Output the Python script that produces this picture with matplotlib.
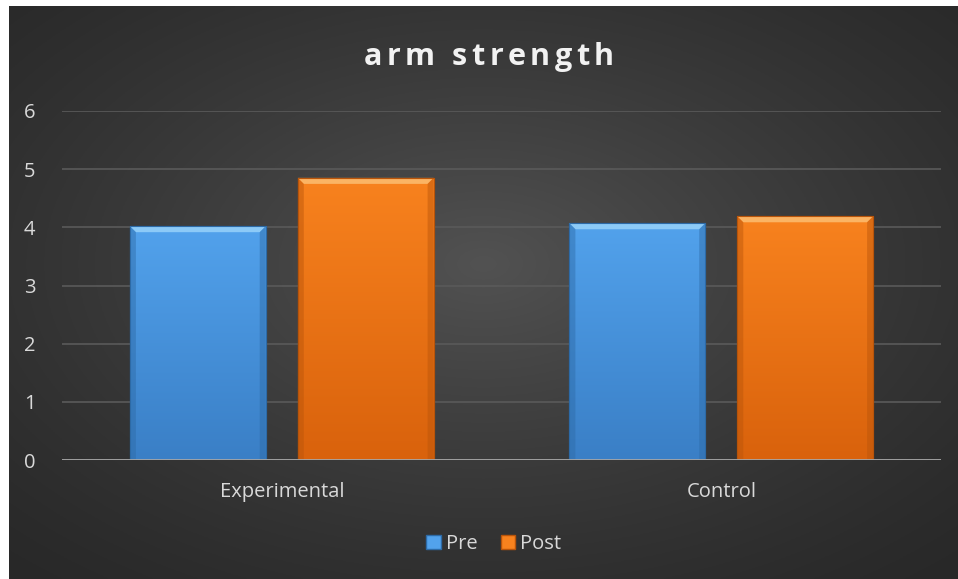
import numpy as np
import matplotlib
matplotlib.use("Agg")
import matplotlib.pyplot as plt
from matplotlib.patches import Polygon, Rectangle

# Data
categories = ["Experimental", "Control"]
series_names = ["Pre", "Post"]
pre_values = [4.02, 4.07]
post_values = [4.85, 4.19]
y_ticks = [0, 1, 2, 3, 4, 5, 6]
title = "arm strength"

top_colors = {"Pre": "#52a2ec", "Post": "#f8821e"}
bottom_colors = {"Pre": "#3a7fc6", "Post": "#d9620c"}
light_colors = {"Pre": "#8ccaf7", "Post": "#fbb464"}
dark_colors = {"Pre": "#2d6aa6", "Post": "#b8540a"}

plt.rcParams["font.family"] = ["Open Sans", "DejaVu Sans"]

W, H = 958, 579
fig = plt.figure(figsize=(W / 100, H / 100), dpi=100)
fig.patch.set_facecolor("white")

# Dark panel with a soft radial gradient
bg = fig.add_axes([9 / W, 0, 1 - 9 / W, 1 - 6 / H])
bg.set_axis_off()
yy, xx = np.mgrid[0:1:300j, 0:1:500j]
r = np.sqrt(((xx - 0.5) / 0.75) ** 2 + ((yy - 0.55) / 0.75) ** 2)
shade = np.clip(1 - r, 0, 1)
lo = np.array([0x28, 0x28, 0x28]) / 255
hi = np.array([0x52, 0x52, 0x52]) / 255
img = lo + (hi - lo) * shade[..., None] ** 1.3
bg.imshow(img, extent=[0, 1, 0, 1], aspect="auto", origin="lower")
bg.set_xlim(0, 1)
bg.set_ylim(0, 1)

ax = fig.add_axes([62 / W, 1 - 460 / H, (941 - 62) / W, (460 - 111) / H])
ax.patch.set_alpha(0)
ax.set_ylim(0, 6)
ax.set_xlim(-0.5, len(categories) - 0.5)

for s in ax.spines.values():
    s.set_visible(False)
ax.set_yticks(y_ticks)
ax.yaxis.grid(True, color="#5a5a5a", lw=1.2)
ax.set_axisbelow(True)
ax.tick_params(axis="both", length=0, labelsize=14.5, labelcolor="#d9d9d9")
ax.tick_params(axis="y", pad=19)
ax.tick_params(axis="x", pad=16)
ax.set_xticks(range(len(categories)))
ax.set_xticklabels(categories)
ax.axhline(0, color="#a6a6a6", lw=2, zorder=6)

bar_w = 0.309
offset = 0.191
x = np.arange(len(categories))

# data-unit size of a pixel, for the bevel
px_x = (ax.get_xlim()[1] - ax.get_xlim()[0]) / (941 - 62)
px_y = 6 / (460 - 111)
bev_x, bev_y = 6 * px_x, 6 * px_y


def hex_rgb(c):
    return np.array([int(c[i:i + 2], 16) for i in (1, 3, 5)]) / 255


for name, vals, sgn in [("Pre", pre_values, -1), ("Post", post_values, 1)]:
    bars = ax.bar(x + sgn * offset, vals, bar_w, color=top_colors[name],
                  edgecolor=dark_colors[name], lw=0.8, zorder=3)
    for b in bars:
        x0, w, h = b.get_x(), b.get_width(), b.get_height()
        # smooth vertical shading inside the bar
        t = np.linspace(0, 1, 100)[:, None, None]
        grad = hex_rgb(bottom_colors[name]) * (1 - t) + hex_rgb(top_colors[name]) * t
        grad = np.repeat(grad, 2, axis=1)
        im = ax.imshow(grad, extent=[x0, x0 + w, 0, h], origin="lower",
                       aspect="auto", zorder=3.2, interpolation="bilinear")
        im.set_clip_path(b)
        # bevelled top
        ax.add_patch(Polygon([(x0, h), (x0 + w, h), (x0 + w - bev_x, h - bev_y),
                              (x0 + bev_x, h - bev_y)], closed=True,
                             color=light_colors[name], lw=0, zorder=4))
        # side bevels
        for xe, xi in [(x0, x0 + bev_x), (x0 + w, x0 + w - bev_x)]:
            ax.add_patch(Polygon([(xe, 0), (xe, h), (xi, h - bev_y), (xi, 0)],
                                 closed=True, color=dark_colors[name], alpha=0.45,
                                 lw=0, zorder=4))
        ax.add_patch(Rectangle((x0, 0), w, h, fill=False,
                               edgecolor=dark_colors[name], lw=0.8, zorder=4.5))

ax.set_xlim(-0.5, len(categories) - 0.5)
ax.set_ylim(0, 6)

# Title with wide letter tracking
renderer = fig.canvas.get_renderer()
tkw = dict(fontsize=22, fontweight="bold", color="#f2f2f2", va="center")
tracking = 4.5
widths = []
for ch in title:
    if ch == " ":
        tmp = fig.text(0, 0, "a a", **tkw)
        w_full = tmp.get_window_extent(renderer).width
        tmp.set_text("aa")
        w_nospace = tmp.get_window_extent(renderer).width
        tmp.remove()
        widths.append(w_full - w_nospace)
    else:
        tmp = fig.text(0, 0, ch, **tkw)
        widths.append(tmp.get_window_extent(renderer).width)
        tmp.remove()
total = sum(widths) + tracking * (len(title) - 1)
cx = 489
xpos = cx - total / 2
for ch, w in zip(title, widths):
    if ch != " ":
        fig.text(xpos / W, 1 - 57 / H, ch, ha="left", **tkw)
    xpos += w + tracking

# Legend
handles = [Rectangle((0, 0), 1, 1, facecolor=top_colors[n], edgecolor=dark_colors[n])
           for n in series_names]
leg = fig.legend(handles, series_names, loc="center", bbox_to_anchor=(494 / W, 1 - 544 / H),
                 ncol=2, frameon=False, fontsize=14.5, handlelength=0.7, handleheight=0.7,
                 handletextpad=0.25, columnspacing=1.2)
for t in leg.get_texts():
    t.set_color("#d9d9d9")

fig.savefig("out.png", dpi=100, facecolor=fig.get_facecolor())
